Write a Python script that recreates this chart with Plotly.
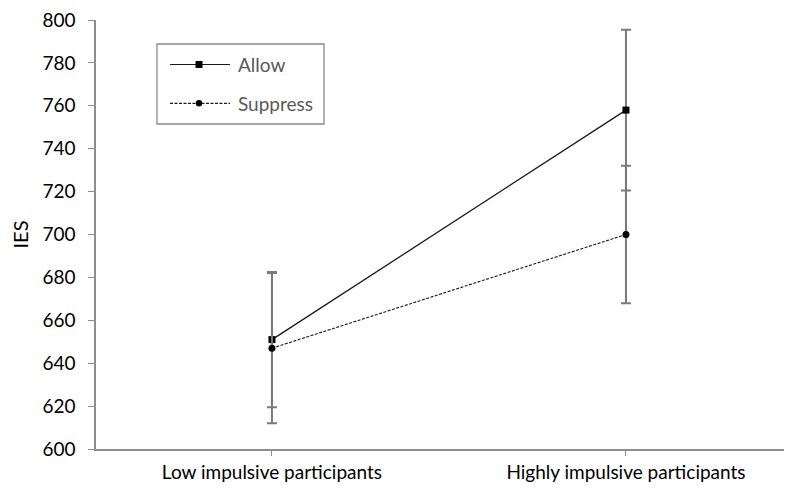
import plotly.graph_objects as go

categories = ["Low impulsive participants", "Highly impulsive participants"]
series_names = ["Allow", "Suppress"]
allow_vals = [651, 758]
allow_err = [31.5, 37.5]
suppress_vals = [647, 700]
suppress_err = [35, 32]
y_ticks = [600, 620, 640, 660, 680, 700, 720, 740, 760, 780, 800]

FONT = "Lato, Calibri, Carlito, sans-serif"
ERR_COLOR = "#7a7a7a"
AXIS_COLOR = "#8c8c8c"
LINE_COLOR = "#1a1a1a"
ALLOW_DASH = "solid"
SUPP_DASH = "3px,1.5px"

fig = go.Figure()
fig.add_trace(go.Scatter(
    x=categories, y=allow_vals, name=series_names[0], mode="lines+markers",
    line=dict(color=LINE_COLOR, width=1.3, dash=ALLOW_DASH),
    marker=dict(symbol="square", size=7, color="#000000"),
    error_y=dict(type="data", array=allow_err, visible=True,
                 color=ERR_COLOR, thickness=2, width=5),
    showlegend=False,
))
fig.add_trace(go.Scatter(
    x=categories, y=suppress_vals, name=series_names[1], mode="lines+markers",
    line=dict(color=LINE_COLOR, width=1.1, dash=SUPP_DASH),
    marker=dict(symbol="circle", size=7, color="#000000"),
    error_y=dict(type="data", array=suppress_err, visible=True,
                 color=ERR_COLOR, thickness=2, width=5),
    showlegend=False,
))

# Manual legend (box, key lines, key markers, labels) in paper coordinates
LEG_X0, LEG_X1, LEG_Y0, LEG_Y1 = 0.0876, 0.3276, 0.7576, 0.9441
KEY_X0, KEY_X1, KEY_XM, TXT_X = 0.1063, 0.1925, 0.1480, 0.2010
KEY_Y = [0.8963, 0.8058]
shapes = [dict(type="rect", xref="paper", yref="paper",
               x0=LEG_X0, x1=LEG_X1, y0=LEG_Y0, y1=LEG_Y1,
               line=dict(color="#8c8c8c", width=1.3), fillcolor="white", layer="above")]
annotations = []
for name, ky, dash, sym in zip(series_names, KEY_Y, [ALLOW_DASH, SUPP_DASH], ["rect", "circle"]):
    shapes.append(dict(type="line", xref="paper", yref="paper",
                       x0=KEY_X0, x1=KEY_X1, y0=ky, y1=ky,
                       line=dict(color=LINE_COLOR, width=1.2, dash=dash), layer="above"))
    half = 3.5 if sym == "rect" else 3.2
    shapes.append(dict(type=sym, xref="paper", yref="paper",
                       xsizemode="pixel", ysizemode="pixel",
                       xanchor=KEY_XM, yanchor=ky,
                       x0=-half, x1=half, y0=-half, y1=half,
                       line=dict(width=0), fillcolor="#000000", layer="above"))
    annotations.append(dict(xref="paper", yref="paper", x=TXT_X, y=ky,
                            xanchor="left", yanchor="middle", showarrow=False,
                            text=name, font=dict(family=FONT, size=19, color="#595959")))

fig.update_layout(
    width=784, height=480,
    margin=dict(l=88, r=0, t=12, b=39),
    paper_bgcolor="white", plot_bgcolor="white",
    font=dict(family=FONT, size=19, color="#000000"),
    showlegend=False,
    shapes=shapes,
    annotations=annotations,
    xaxis=dict(
        type="category", range=[-0.497, 1.469],
        showline=True, linecolor=AXIS_COLOR, linewidth=1.5,
        ticks="outside", ticklen=5, tickcolor=AXIS_COLOR,
        showgrid=False, zeroline=False,
        tickfont=dict(family=FONT, size=19, color="#000000"),
    ),
    yaxis=dict(
        range=[600, 800], tickvals=y_ticks,
        showline=True, linecolor=AXIS_COLOR, linewidth=1.5,
        ticks="outside", ticklen=6, tickcolor=AXIS_COLOR,
        ticklabelstandoff=9, ticklabeloverflow="allow",
        showgrid=False, zeroline=False,
        tickfont=dict(family=FONT, size=19, color="#000000"),
        title=dict(text="IES", font=dict(family=FONT, size=20, color="#000000"), standoff=13),
    ),
)

fig.write_html("out.html")
